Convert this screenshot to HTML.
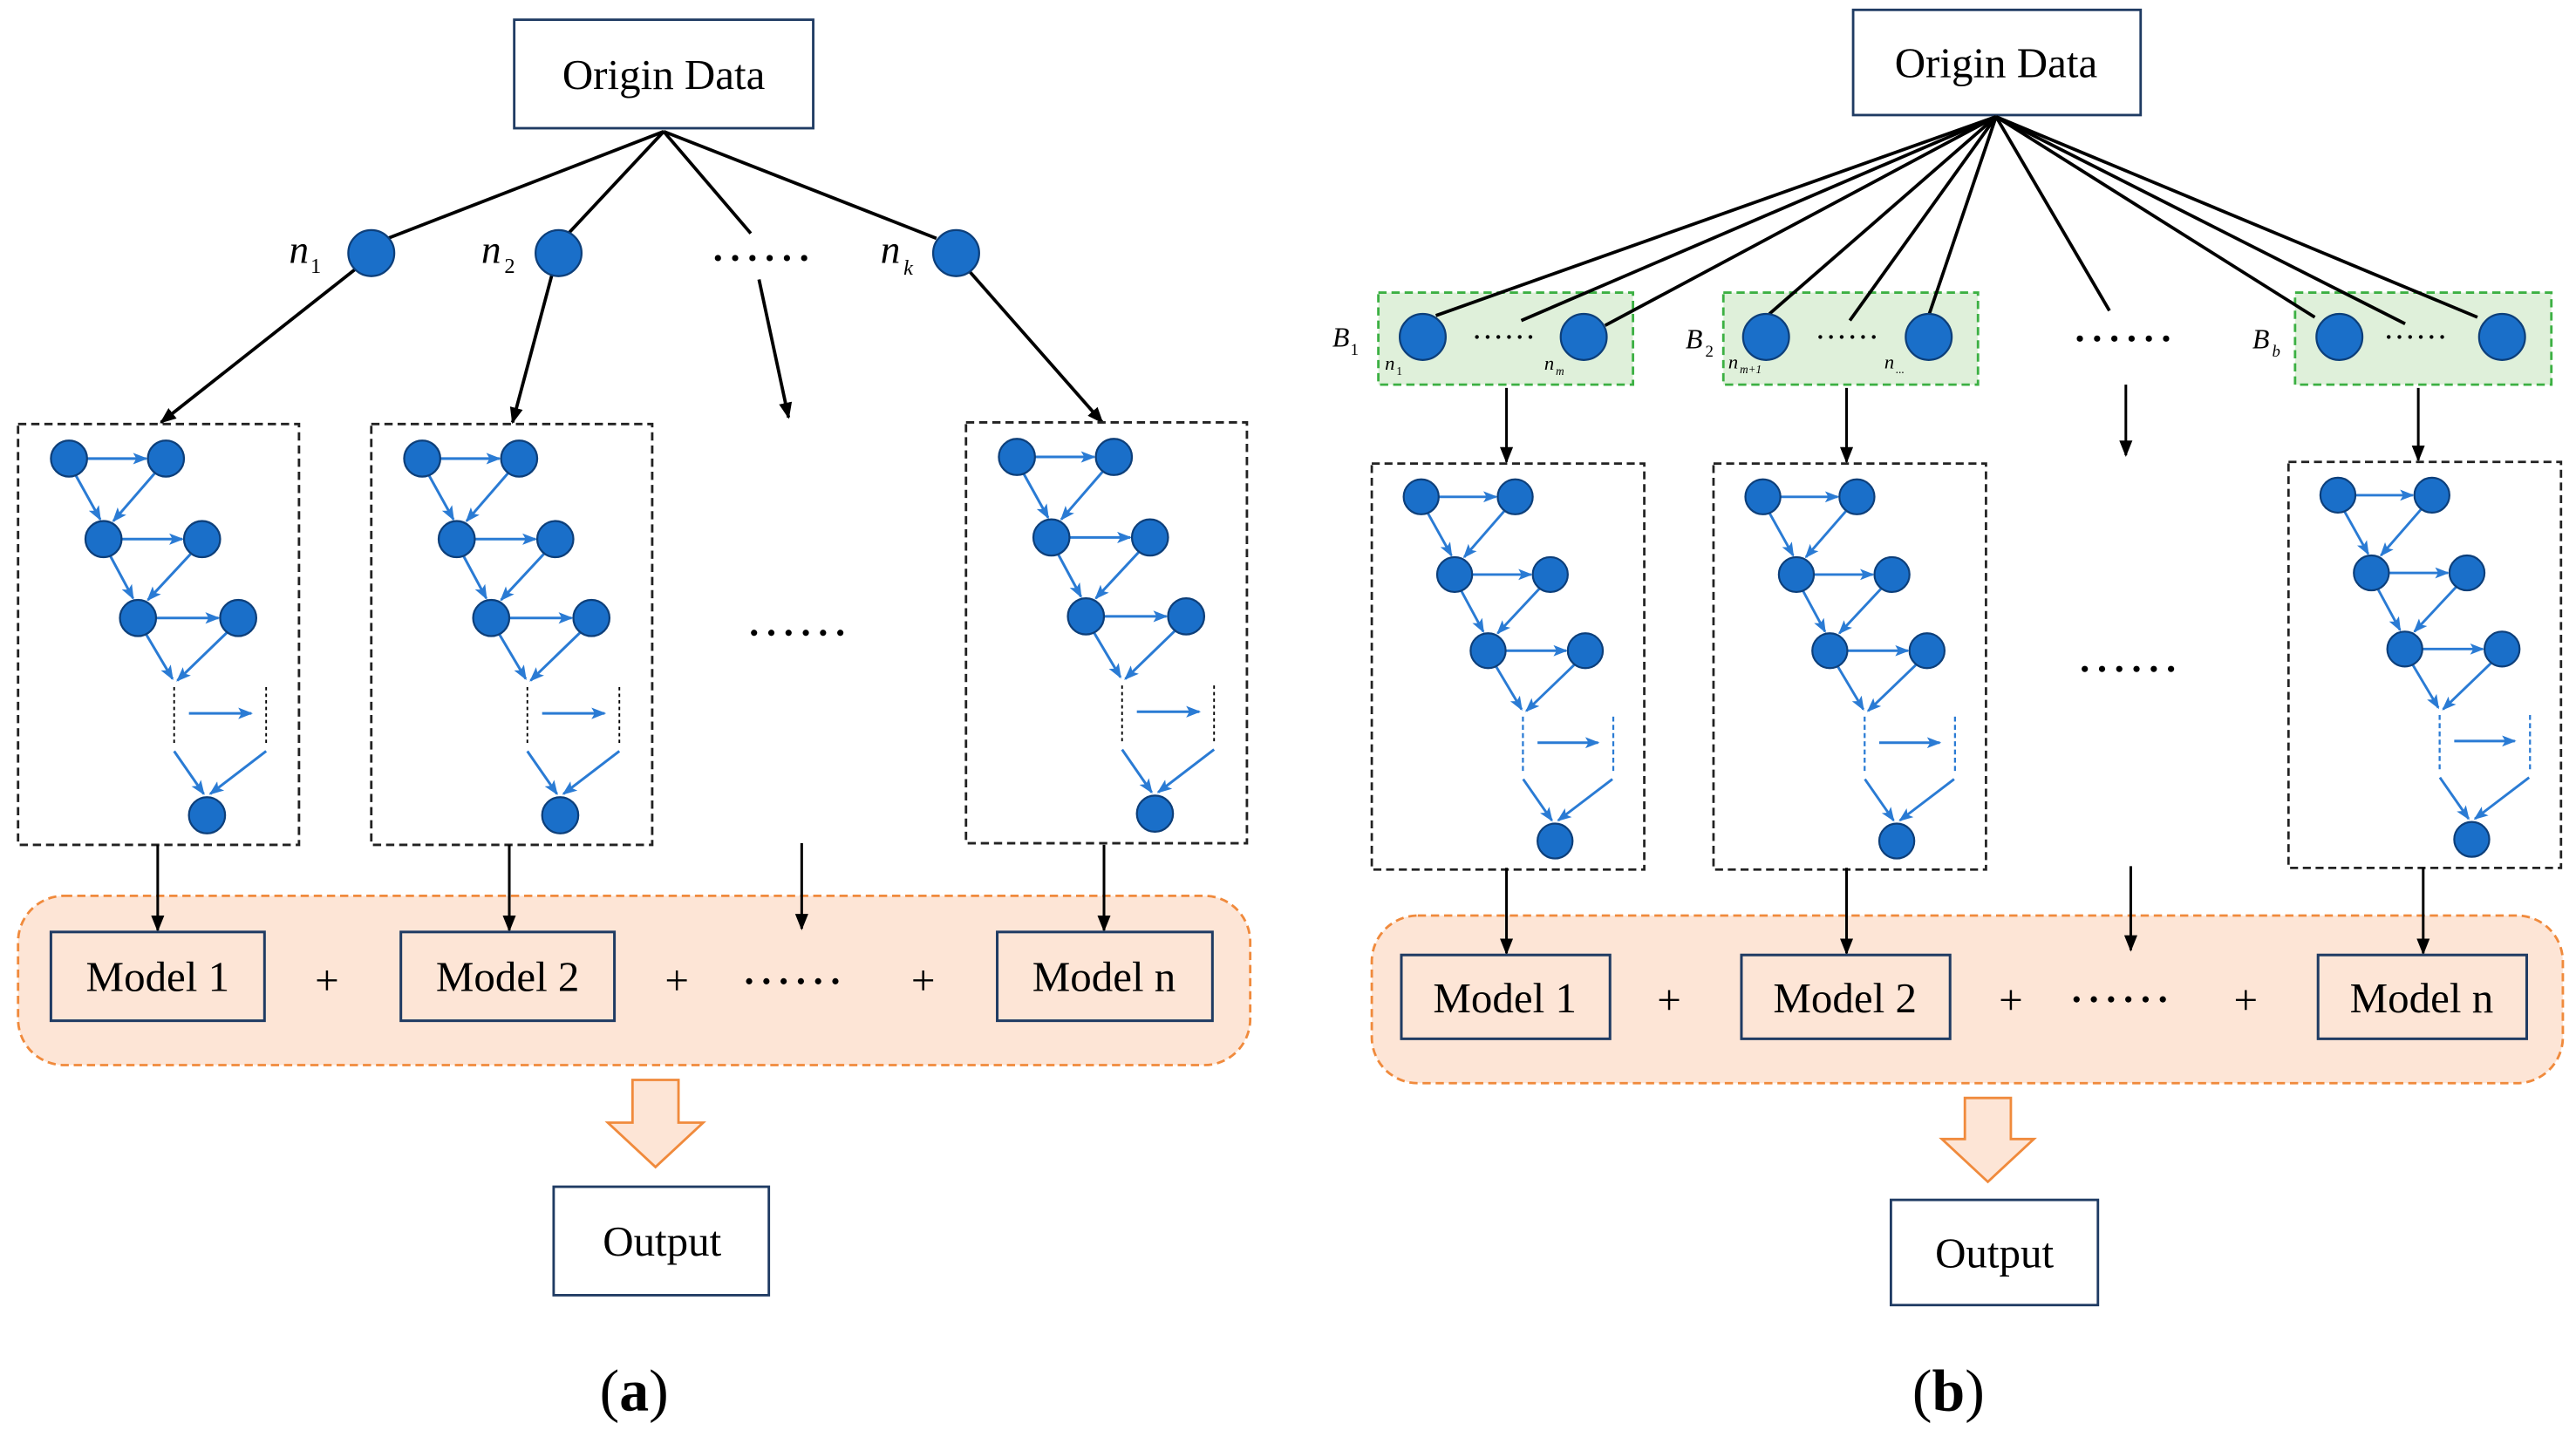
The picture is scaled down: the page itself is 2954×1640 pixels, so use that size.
<!DOCTYPE html>
<html><head><meta charset="utf-8"><style>
html,body{margin:0;padding:0;background:#fff;}
svg{display:block;}
text{font-family:"Liberation Serif",serif;}
</style></head><body>
<svg width="2954" height="1640" viewBox="0 0 1568 870" preserveAspectRatio="none" xmlns="http://www.w3.org/2000/svg">
<defs>
<marker id="ab" markerWidth="10" markerHeight="10" refX="9" refY="5" orient="auto" markerUnits="userSpaceOnUse"><path d="M0,1 L10,5 L0,9 Z" fill="#000"/></marker>
<marker id="bb" markerWidth="9" markerHeight="9" refX="8" refY="4.5" orient="auto" markerUnits="userSpaceOnUse"><path d="M0,1 L9,4.5 L0,8 L2,4.5 Z" fill="#2a7bd4"/></marker>
<g id="d6" fill="#000"><circle cx="0" cy="0" r="1.9"/><circle cx="10.5" cy="0" r="1.9"/><circle cx="21" cy="0" r="1.9"/><circle cx="31.5" cy="0" r="1.9"/><circle cx="42" cy="0" r="1.9"/><circle cx="52.5" cy="0" r="1.9"/></g>
<g id="graphA">
<rect x="0" y="0" width="171" height="256" fill="none" stroke="#222" stroke-width="1.5" stroke-dasharray="5,3"/>
<g stroke="#2a7bd4" stroke-width="1.6" fill="none" marker-end="url(#bb)">
<line x1="42" y1="21" x2="78" y2="21"/>
<line x1="35" y1="31" x2="50" y2="58"/><line x1="84" y1="29" x2="58" y2="59"/>
<line x1="63" y1="70" x2="100" y2="70"/>
<line x1="56" y1="80" x2="70" y2="106"/><line x1="106" y1="78" x2="79" y2="107"/>
<line x1="84" y1="118" x2="122" y2="118"/>
<line x1="78" y1="128" x2="94" y2="155"/><line x1="128" y1="126" x2="97" y2="156"/>
<line x1="104" y1="176" x2="142" y2="176"/>
<line x1="95" y1="199" x2="113" y2="225"/><line x1="151" y1="199" x2="117" y2="225"/>
</g>
<g fill="#1a6fc9" stroke="#0d3f7a" stroke-width="1.2">
<circle cx="31" cy="21" r="11"/><circle cx="90" cy="21" r="11"/>
<circle cx="52" cy="70" r="11"/><circle cx="112" cy="70" r="11"/>
<circle cx="73" cy="118" r="11"/><circle cx="134" cy="118" r="11"/>
<circle cx="115" cy="238" r="11"/>
</g>
</g>
</defs>

<!-- ===== Panel (a) ===== -->
<rect x="313" y="12" width="182" height="66" fill="#fff" stroke="#1f3b63" stroke-width="1.5"/>
<text x="404" y="54" font-size="26" text-anchor="middle">Origin Data</text>
<g stroke="#000" stroke-width="2" fill="none">
<line x1="404" y1="80" x2="236" y2="145"/>
<line x1="404" y1="80" x2="346" y2="142"/>
<line x1="404" y1="80" x2="457" y2="142"/>
<line x1="404" y1="80" x2="570" y2="145"/>
<line x1="216" y1="164" x2="98" y2="257" marker-end="url(#ab)"/>
<line x1="336" y1="167" x2="312" y2="257" marker-end="url(#ab)"/>
<line x1="462" y1="170" x2="480" y2="254" marker-end="url(#ab)"/>
<line x1="590" y1="165" x2="671" y2="257" marker-end="url(#ab)"/>
</g>
<g fill="#1a6fc9" stroke="#0d3f7a" stroke-width="1.2">
<circle cx="226" cy="154" r="14"/><circle cx="340" cy="154" r="14"/><circle cx="582" cy="154" r="14"/>
</g>
<use href="#d6" x="437" y="157"/>
<text x="176" y="160" font-size="24" font-style="italic">n</text><text x="189" y="166" font-size="13">1</text>
<text x="293" y="160" font-size="24" font-style="italic">n</text><text x="307" y="166" font-size="13">2</text>
<text x="536" y="160" font-size="24" font-style="italic">n</text><text x="550" y="167" font-size="13" font-style="italic">k</text>
<use href="#graphA" x="11" y="258"/>
<use href="#graphA" x="226" y="258"/>
<use href="#graphA" x="588" y="257"/>
<g stroke="#000" stroke-width="1" stroke-dasharray="2,2"><line x1="106" y1="418" x2="106" y2="452"/><line x1="162" y1="418" x2="162" y2="452"/><line x1="321" y1="418" x2="321" y2="452"/><line x1="377" y1="418" x2="377" y2="452"/><line x1="683" y1="417" x2="683" y2="451"/><line x1="739" y1="417" x2="739" y2="451"/></g>
<use href="#d6" x="459" y="385"/>

<rect x="11" y="545" width="750" height="103" rx="28" fill="#fde5d6" stroke="#f08a3c" stroke-width="1.5" stroke-dasharray="5,3"/>
<g stroke="#000" stroke-width="1.6" marker-end="url(#ab)">
<line x1="96" y1="514" x2="96" y2="566"/><line x1="310" y1="514" x2="310" y2="566"/>
<line x1="488" y1="513" x2="488" y2="565"/><line x1="672" y1="514" x2="672" y2="566"/>
</g>
<g fill="#fde5d6" stroke="#1f3b63" stroke-width="1.6">
<rect x="31" y="567" width="130" height="54"/><rect x="244" y="567" width="130" height="54"/><rect x="607" y="567" width="131" height="54"/>
</g>
<g font-size="26" text-anchor="middle">
<text x="96" y="603">Model 1</text><text x="309" y="603">Model 2</text><text x="672" y="603">Model n</text>
<text x="199" y="605">+</text><text x="412" y="605">+</text><text x="562" y="605">+</text>
</g>
<use href="#d6" x="456" y="597"/>
<path d="M385,657 H413 V683 H428 L399,710 L370,683 H385 Z" fill="#fde5d6" stroke="#f08a3c" stroke-width="1.5"/>
<rect x="337" y="722" width="131" height="66" fill="#fff" stroke="#1f3b63" stroke-width="1.5"/>
<text x="403" y="764" font-size="26" text-anchor="middle">Output</text>
<text x="386" y="858" font-size="36" text-anchor="middle">(<tspan font-weight="bold">a</tspan>)</text>

<!-- ===== Panel (b) ===== -->
<rect x="1128" y="6" width="175" height="64" fill="#fff" stroke="#1f3b63" stroke-width="1.5"/>
<text x="1215" y="47" font-size="26" text-anchor="middle">Origin Data</text>
<g fill="#dff0da" stroke="#3cb043" stroke-width="1.5" stroke-dasharray="5,3">
<rect x="839" y="178" width="155" height="56"/><rect x="1049" y="178" width="155" height="56"/><rect x="1397" y="178" width="156" height="56"/>
</g>
<g stroke="#000" stroke-width="2">
<line x1="1215" y1="71" x2="874" y2="192"/><line x1="1215" y1="71" x2="926" y2="195"/><line x1="1215" y1="71" x2="977" y2="198"/>
<line x1="1215" y1="71" x2="1077" y2="191"/><line x1="1215" y1="71" x2="1126" y2="195"/><line x1="1215" y1="71" x2="1174" y2="192"/>
<line x1="1215" y1="71" x2="1284" y2="189"/>
<line x1="1215" y1="71" x2="1409" y2="193"/><line x1="1215" y1="71" x2="1464" y2="197"/><line x1="1215" y1="71" x2="1508" y2="193"/>
</g>
<g fill="#1a6fc9" stroke="#0d3f7a" stroke-width="1.2">
<circle cx="866" cy="205" r="14"/><circle cx="964" cy="205" r="14"/>
<circle cx="1075" cy="205" r="14"/><circle cx="1174" cy="205" r="14"/>
<circle cx="1424" cy="205" r="14"/><circle cx="1523" cy="205" r="14"/>
</g>
<g transform="translate(899,205) scale(0.62)"><use href="#d6"/></g>
<g transform="translate(1108,205) scale(0.62)"><use href="#d6"/></g>
<g transform="translate(1454,205) scale(0.62)"><use href="#d6"/></g>
<use href="#d6" x="1266" y="206"/>
<g font-style="italic">
<text x="811" y="211" font-size="17">B</text><text x="822" y="216" font-size="10" font-style="normal">1</text>
<text x="1026" y="212" font-size="17">B</text><text x="1038" y="217" font-size="10" font-style="normal">2</text>
<text x="1371" y="212" font-size="17">B</text><text x="1383" y="217" font-size="10">b</text>
<text x="843" y="225" font-size="12">n</text><text x="850" y="228" font-size="7" font-style="normal">1</text>
<text x="940" y="225" font-size="12">n</text><text x="947" y="228" font-size="7">m</text>
<text x="1052" y="224" font-size="12">n</text><text x="1059" y="227" font-size="7">m+1</text>
<text x="1147" y="224" font-size="12">n</text><text x="1154" y="227" font-size="7">...</text>
</g>
<g stroke="#000" stroke-width="1.6" marker-end="url(#ab)">
<line x1="917" y1="236" x2="917" y2="281"/><line x1="1124" y1="236" x2="1124" y2="281"/>
<line x1="1294" y1="234" x2="1294" y2="277"/><line x1="1472" y1="236" x2="1472" y2="280"/>
</g>
<g transform="translate(835,282) scale(0.97,0.965)"><use href="#graphA"/></g>
<g transform="translate(1043,282) scale(0.97,0.965)"><use href="#graphA"/></g>
<g transform="translate(1393,281) scale(0.97,0.965)"><use href="#graphA"/></g>
<g stroke="#2a7bd4" stroke-width="1.2" stroke-dasharray="3,2"><line x1="927" y1="436" x2="927" y2="470"/><line x1="982" y1="436" x2="982" y2="470"/><line x1="1135" y1="436" x2="1135" y2="470"/><line x1="1190" y1="436" x2="1190" y2="470"/><line x1="1485" y1="435" x2="1485" y2="469"/><line x1="1540" y1="435" x2="1540" y2="469"/></g>
<use href="#d6" x="1269" y="407"/>

<rect x="835" y="557" width="725" height="102" rx="28" fill="#fde5d6" stroke="#f08a3c" stroke-width="1.5" stroke-dasharray="5,3"/>
<g stroke="#000" stroke-width="1.6" marker-end="url(#ab)">
<line x1="917" y1="528" x2="917" y2="580"/><line x1="1124" y1="528" x2="1124" y2="580"/>
<line x1="1297" y1="527" x2="1297" y2="578"/><line x1="1475" y1="528" x2="1475" y2="580"/>
</g>
<g fill="#fde5d6" stroke="#1f3b63" stroke-width="1.6">
<rect x="853" y="581" width="127" height="51"/><rect x="1060" y="581" width="127" height="51"/><rect x="1411" y="581" width="127" height="51"/>
</g>
<g font-size="26" text-anchor="middle">
<text x="916" y="616">Model 1</text><text x="1123" y="616">Model 2</text><text x="1474" y="616">Model n</text>
<text x="1016" y="617">+</text><text x="1224" y="617">+</text><text x="1367" y="617">+</text>
</g>
<use href="#d6" x="1264" y="608"/>
<path d="M1196,668 H1224 V693 H1238 L1210,719 L1182,693 H1196 Z" fill="#fde5d6" stroke="#f08a3c" stroke-width="1.5"/>
<rect x="1151" y="730" width="126" height="64" fill="#fff" stroke="#1f3b63" stroke-width="1.5"/>
<text x="1214" y="771" font-size="26" text-anchor="middle">Output</text>
<text x="1186" y="858" font-size="36" text-anchor="middle">(<tspan font-weight="bold">b</tspan>)</text>
</svg>
</body></html>
